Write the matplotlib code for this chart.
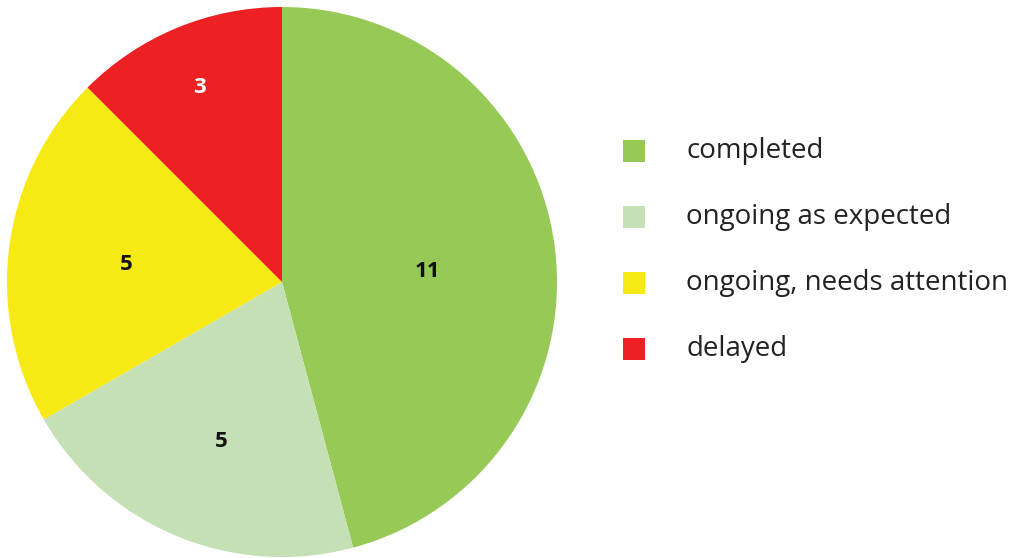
import numpy as np
import matplotlib
matplotlib.use('Agg')
import matplotlib.pyplot as plt
from matplotlib.patches import Rectangle

labels = ['completed', 'ongoing as expected', 'ongoing, needs attention', 'delayed']
values = [11, 5, 5, 3]
colors = ['#96c956', '#c5e0b5', '#f7ea14', '#ed2024']
text_colors = ['#111111', '#111111', '#111111', '#ffffff']

W, H = 1025, 558
fig = plt.figure(figsize=(W / 100, H / 100), dpi=100)

cx, cy, r = 282, 282, 275
ax = fig.add_axes([(cx - r) / W, (H - cy - r) / H, 2 * r / W, 2 * r / H])
wedges, _ = ax.pie(values, colors=colors, startangle=90, counterclock=False,
                   radius=1.0, wedgeprops=dict(linewidth=0))
ax.set_xlim(-1, 1)
ax.set_ylim(-1, 1)
ax.set_aspect('equal')
ax.axis('off')

# label placement: radial distance and angle tweak per slice
dist = [0.53, 0.62, 0.57, 0.77]
shift = [-3.5, 1.5, 1.0, 0.5]
for w, v, d, s, tc in zip(wedges, values, dist, shift, text_colors):
    ang = np.deg2rad((w.theta1 + w.theta2) / 2 + s)
    ax.text(d * np.cos(ang), d * np.sin(ang), str(v), ha='center', va='center',
            fontsize=16, fontweight='bold', color=tc, family='Open Sans')

# legend
lax = fig.add_axes([0, 0, 1, 1])
lax.set_xlim(0, W)
lax.set_ylim(H, 0)
lax.axis('off')
ys = [151, 217, 283, 349]
for y, lab, c in zip(ys, labels, colors):
    lax.add_patch(Rectangle((623, y - 11), 22, 22, color=c, lw=0))
    lax.text(686, y, lab, ha='left', va='center', fontsize=20,
             color='#222222', family='Open Sans')

fig.savefig('out.png', dpi=100)
